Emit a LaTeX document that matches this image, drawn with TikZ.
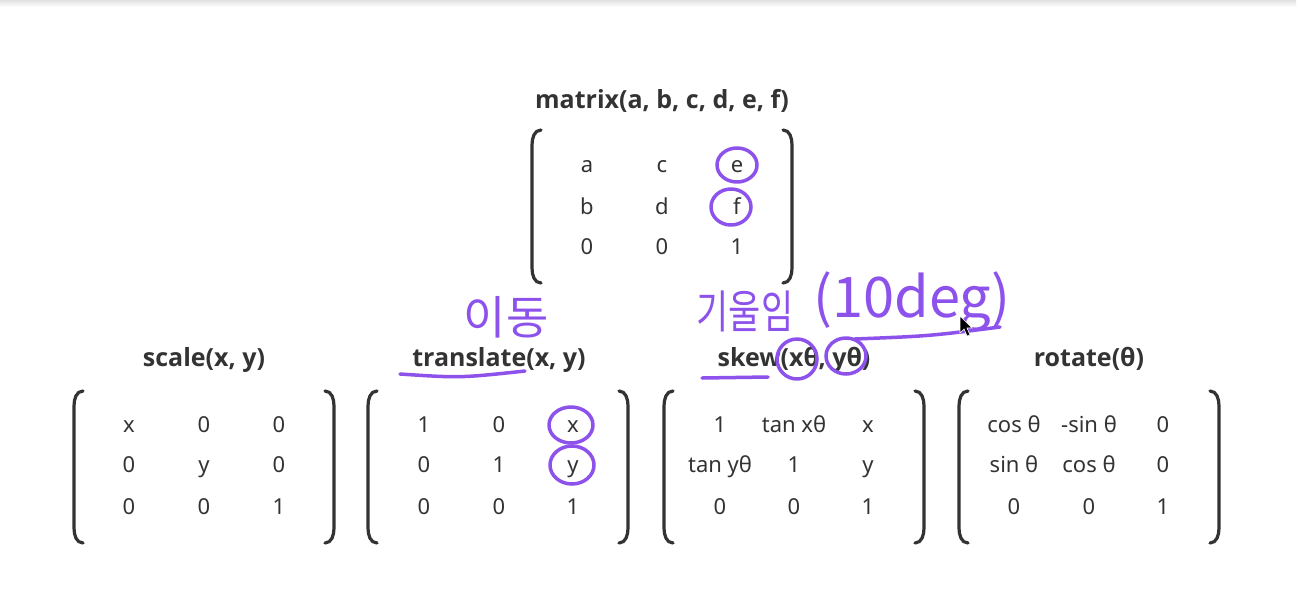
\documentclass[tikz,border=0pt]{standalone}
\usepackage{fontspec}
\setmainfont{Noto Sans}
\newfontfamily\headfont{Open Sans}
\newfontfamily\krfont{Noto Sans CJK KR}
\definecolor{ink}{HTML}{333333}
\definecolor{penpurple}{RGB}{140,82,235}

\begin{document}
\begin{tikzpicture}[x=1pt,y=-1pt]
    \tikzstyle{title}=[font=\headfont\fontsize{25}{28}\selectfont\bfseries, text=ink, inner sep=0, text height=17.5pt, text depth=0pt];
    \tikzstyle{entry}=[font=\fontsize{22}{26}\selectfont, text=ink, inner sep=0, text height=15.7pt, text depth=0pt];
    \tikzstyle{brack}=[draw=ink, line width=3.2pt, line cap=round];
    \tikzstyle{penline}=[draw=penpurple, line width=3.5pt, line cap=round, line join=round];
    \tikzstyle{hand}=[text=penpurple, inner sep=0, font=\krfont];

    \useasboundingbox[fill=white] (0,0) rectangle (1316,600);
    \fill[top color=black!12, bottom color=white] (0,0) rectangle (1296,7);

    % matrix(a, b, c, d, e, f)
    \node[title] at (662,100) (tmat) {matrix(a, b, c, d, e, f)};
    \node[entry] at (587,165) (ma) {a};
    \node[entry] at (662,165) (mc) {c};
    \node[entry] at (737,165) (me) {e};
    \node[entry] at (587,207) (mb) {b};
    \node[entry] at (662,207) (md) {d};
    \node[entry] at (737,207) (mf) {f};
    \node[entry] at (587,247) (m0) {0};
    \node[entry] at (662,247) (m00) {0};
    \node[entry] at (737,247) (m1) {1};
    \draw[brack] (541,130) to[out=180,in=90] (532,145) -- (532,268) to[out=-90,in=180] (541,283);
    \draw[brack] (783,130) to[out=0,in=90] (792,145) -- (792,268) to[out=-90,in=0] (783,283);

    % scale(x, y)
    \node[title] at (204,358) (tscale) {scale(x, y)};
    \node[entry] at (129,425) (s11) {x};
    \node[entry] at (204,425) (s12) {0};
    \node[entry] at (279,425) (s13) {0};
    \node[entry] at (129,465) (s21) {0};
    \node[entry] at (204,465) (s22) {y};
    \node[entry] at (279,465) (s23) {0};
    \node[entry] at (129,507) (s31) {0};
    \node[entry] at (204,507) (s32) {0};
    \node[entry] at (279,507) (s33) {1};
    \draw[brack] (83,391) to[out=180,in=90] (74,406) -- (74,528) to[out=-90,in=180] (83,543);
    \draw[brack] (325,391) to[out=0,in=90] (334,406) -- (334,528) to[out=-90,in=0] (325,543);

    % translate(x, y)
    \node[title] at (499,358) (ttrans) {translate(x, y)};
    \node[entry] at (424,425) (t11) {1};
    \node[entry] at (499,425) (t12) {0};
    \node[entry] at (573,425) (t13) {x};
    \node[entry] at (424,465) (t21) {0};
    \node[entry] at (499,465) (t22) {1};
    \node[entry] at (573,465) (t23) {y};
    \node[entry] at (424,507) (t31) {0};
    \node[entry] at (499,507) (t32) {0};
    \node[entry] at (573,507) (t33) {1};
    \draw[brack] (377,391) to[out=180,in=90] (368,406) -- (368,528) to[out=-90,in=180] (377,543);
    \draw[brack] (619,391) to[out=0,in=90] (628,406) -- (628,528) to[out=-90,in=0] (619,543);

    % skew(xθ, yθ)
    \node[title] at (794,358) (tskew) {skew(xθ, yθ)};
    \node[entry] at (720,425) (k11) {1};
    \node[entry] at (794,425) (k12) {tan xθ};
    \node[entry] at (868,425) (k13) {x};
    \node[entry] at (720,465) (k21) {tan yθ};
    \node[entry] at (794,465) (k22) {1};
    \node[entry] at (868,465) (k23) {y};
    \node[entry] at (720,507) (k31) {0};
    \node[entry] at (794,507) (k32) {0};
    \node[entry] at (868,507) (k33) {1};
    \draw[brack] (673,391) to[out=180,in=90] (664,406) -- (664,528) to[out=-90,in=180] (673,543);
    \draw[brack] (915,391) to[out=0,in=90] (924,406) -- (924,528) to[out=-90,in=0] (915,543);

    % rotate(θ)
    \node[title] at (1089,358) (trot) {rotate(θ)};
    \node[entry] at (1014,425) (r11) {cos θ};
    \node[entry] at (1089,425) (r12) {-sin θ};
    \node[entry] at (1163,425) (r13) {0};
    \node[entry] at (1014,465) (r21) {sin θ};
    \node[entry] at (1089,465) (r22) {cos θ};
    \node[entry] at (1163,465) (r23) {0};
    \node[entry] at (1014,507) (r31) {0};
    \node[entry] at (1089,507) (r32) {0};
    \node[entry] at (1163,507) (r33) {1};
    \draw[brack] (968,391) to[out=180,in=90] (959,406) -- (959,528) to[out=-90,in=180] (968,543);
    \draw[brack] (1210,391) to[out=0,in=90] (1219,406) -- (1219,528) to[out=-90,in=0] (1210,543);

    % pen marks
    \node[hand, font=\krfont\fontsize{46}{50}\selectfont] at (506,317) (hmove) {이동};
    \node[hand, font=\krfont\fontsize{35}{38}\selectfont, yscale=1.3] at (745,311) (hskew) {기울임};
    \node[hand, font=\krfont\fontsize{56}{60}\selectfont] at (912,302) (hdeg) {(10deg)};
    \draw[penline] (me) ellipse [x radius=20, y radius=17];
    \draw[penline] ([xshift=-6pt]mf.center) ellipse [x radius=20, y radius=18];
    \draw[penline] ([xshift=-2pt]t13.center) ellipse [x radius=22, y radius=18];
    \draw[penline] ([xshift=-1pt]t23.center) ellipse [x radius=22, y radius=19];
    \draw[penline] (400,374) .. controls (460,378) .. (525,371);
    \draw[penline] (702,378) -- (768,377);
    \draw[penline] (797,359) ellipse [x radius=20, y radius=20];
    \draw[penline] (846,356) ellipse [x radius=20, y radius=18];
    \draw[penline] (855,339) .. controls (930,336) .. (1000,327);

    % cursor
    \draw[fill=black, draw=white, line width=0.6pt] (960,316) -- (960,333) -- (964,329) -- (967,336) -- (970,335) -- (967,328) -- (972,328) -- cycle;
\end{tikzpicture}
\end{document}
